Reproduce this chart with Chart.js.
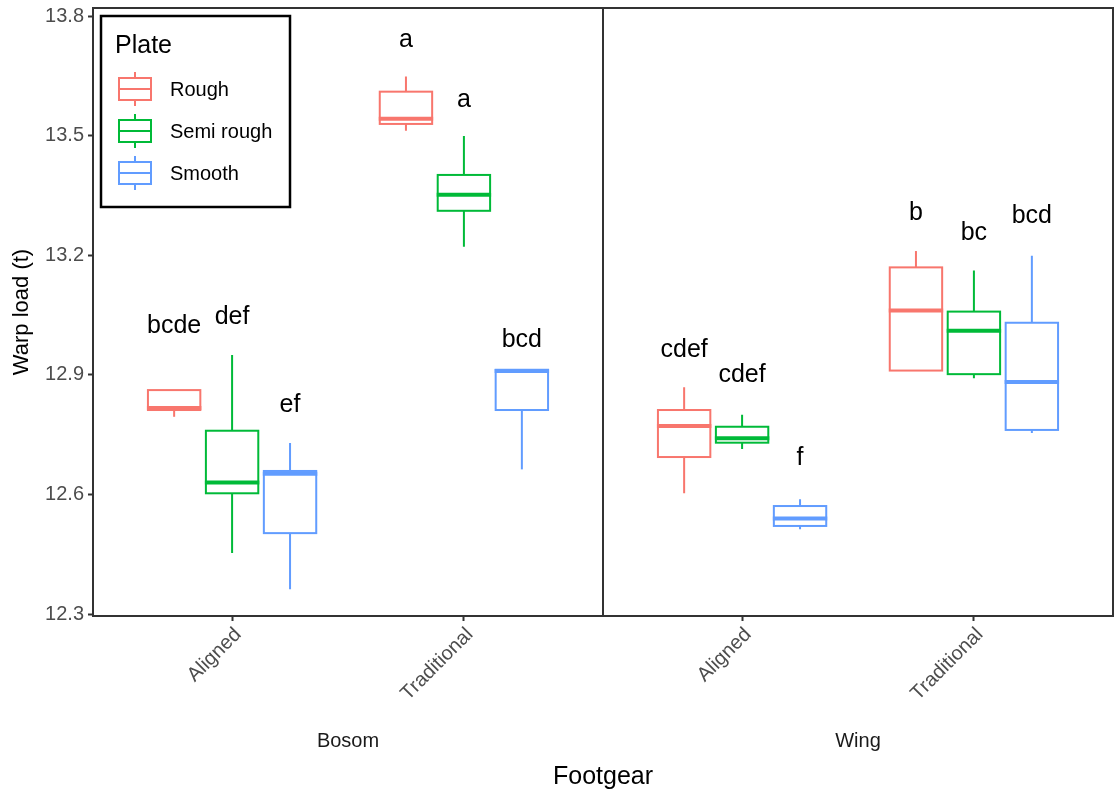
<!DOCTYPE html>
<html>
<head>
<meta charset="utf-8">
<script src="https://cdn.jsdelivr.net/npm/chart.js@4"></script>
<style>
html, body { margin: 0; padding: 0; background: #fff; }
#wrap { width: 1114px; height: 793px; }
</style>
</head>
<body>
<div id="wrap"><canvas id="boxChart"></canvas></div>
<script>
// panels / categories / series
const panels = ['Bosom', 'Wing'];
const footgear = ['Aligned', 'Traditional'];
const plates = ['Rough', 'Semi rough', 'Smooth'];
const plateColors = ['#F8766D', '#00BA38', '#619CFF'];

// box stats, group order: Bosom-Aligned, Bosom-Traditional, Wing-Aligned, Wing-Traditional
const roughMin = [12.795, 13.513, 12.603, 12.911];
const roughQ1  = [12.812, 13.530, 12.694, 12.911];
const roughMed = [12.817, 13.543, 12.772, 13.062];
const roughQ3  = [12.862, 13.611, 12.812, 13.170];
const roughMax = [12.862, 13.649, 12.869, 13.211];

const semiMin = [12.453, 13.222, 12.714, 12.892];
const semiQ1  = [12.603, 13.312, 12.730, 12.902];
const semiMed = [12.630, 13.352, 12.741, 13.011];
const semiQ3  = [12.760, 13.402, 12.770, 13.059];
const semiMax = [12.950, 13.500, 12.800, 13.162];

const smoothMin = [12.362, 12.663, 12.513, 12.754];
const smoothQ1  = [12.503, 12.812, 12.521, 12.762];
const smoothMed = [12.652, 12.910, 12.540, 12.882];
const smoothQ3  = [12.659, 12.913, 12.571, 13.031];
const smoothMax = [12.729, 12.913, 12.588, 13.199];

// significance letters and their heights
const roughLetters  = ['bcde', 'a', 'cdef', 'b'];
const semiLetters   = ['def', 'a', 'cdef', 'bc'];
const smoothLetters = ['ef', 'bcd', 'f', 'bcd'];
const roughLetterY  = [13.023, 13.741, 12.963, 13.307];
const semiLetterY   = [13.046, 13.590, 12.900, 13.257];
const smoothLetterY = [12.825, 12.988, 12.692, 13.299];

const yTicks = [12.3, 12.6, 12.9, 13.2, 13.5, 13.8];

// x position of a group: facet offset + category index
const panelWidth = 2.2;
function groupX(g) {
    const p = Math.floor(g / 2), c = g % 2;
    return 1 + c + p * panelWidth;
}
const dodge = 0.25;
const halfBox = 0.113;

const stats = [
    [roughMin, roughQ1, roughMed, roughQ3, roughMax, roughLetters, roughLetterY],
    [semiMin, semiQ1, semiMed, semiQ3, semiMax, semiLetters, semiLetterY],
    [smoothMin, smoothQ1, smoothMed, smoothQ3, smoothMax, smoothLetters, smoothLetterY]
];

const datasets = plates.map((name, s) => {
    const [mn, q1, md, q3, mx, lt, ly] = stats[s];
    return {
        label: name,
        borderColor: plateColors[s],
        backgroundColor: plateColors[s],
        pointRadius: 0,
        data: md.map((m, g) => ({
            x: groupX(g) + (s - 1) * dodge,
            y: m, min: mn[g], q1: q1[g], q3: q3[g], max: mx[g],
            letter: lt[g], letterY: ly[g]
        }))
    };
});

const FONT = '"Liberation Sans", Arial, Helvetica, sans-serif';

// draws panel frames, boxes, letters, strip labels and legend
const boxPlugin = {
    id: 'boxPlugin',
    afterDatasetsDraw(chart) {
        const ctx = chart.ctx;
        const xs = chart.scales.x, ys = chart.scales.y;
        const area = chart.chartArea;

        chart.data.datasets.forEach((ds) => {
            ds.data.forEach((d) => {
                const xc = xs.getPixelForValue(d.x);
                const xl = xs.getPixelForValue(d.x - halfBox);
                const xr = xs.getPixelForValue(d.x + halfBox);
                const yMin = ys.getPixelForValue(d.min);
                const yQ1 = ys.getPixelForValue(d.q1);
                const yMed = ys.getPixelForValue(d.y);
                const yQ3 = ys.getPixelForValue(d.q3);
                const yMax = ys.getPixelForValue(d.max);
                ctx.save();
                ctx.strokeStyle = ds.borderColor;
                ctx.lineWidth = 2;
                ctx.beginPath();
                ctx.moveTo(xc, yMax); ctx.lineTo(xc, yQ3);
                ctx.moveTo(xc, yQ1); ctx.lineTo(xc, yMin);
                ctx.stroke();
                ctx.fillStyle = '#fff';
                ctx.fillRect(xl, yQ3, xr - xl, yQ1 - yQ3);
                ctx.strokeRect(xl, yQ3, xr - xl, yQ1 - yQ3);
                ctx.lineWidth = 4;
                ctx.beginPath();
                ctx.moveTo(xl - 1, yMed); ctx.lineTo(xr + 1, yMed);
                ctx.stroke();
                // letter
                ctx.fillStyle = '#000';
                ctx.font = '25px ' + FONT;
                ctx.textAlign = 'center';
                ctx.textBaseline = 'middle';
                ctx.fillText(d.letter, xc, ys.getPixelForValue(d.letterY));
                ctx.restore();
            });
        });

        // panel frames
        ctx.save();
        ctx.strokeStyle = '#333';
        ctx.lineWidth = 2;
        panels.forEach((p, i) => {
            const x0 = xs.getPixelForValue(0.4 + i * panelWidth);
            const x1 = xs.getPixelForValue(0.4 + (i + 1) * panelWidth);
            ctx.strokeRect(x0, area.top, x1 - x0, area.bottom - area.top);
            // strip label under the axis
            ctx.fillStyle = '#1a1a1a';
            ctx.font = '20px ' + FONT;
            ctx.textAlign = 'center';
            ctx.textBaseline = 'middle';
            ctx.fillText(p, (x0 + x1) / 2, 741);
        });
        ctx.restore();

        // legend
        ctx.save();
        ctx.strokeStyle = '#000';
        ctx.lineWidth = 2.5;
        ctx.fillStyle = '#fff';
        ctx.fillRect(101, 16, 189, 191);
        ctx.strokeRect(101, 16, 189, 191);
        ctx.fillStyle = '#000';
        ctx.font = '25px ' + FONT;
        ctx.textAlign = 'left';
        ctx.textBaseline = 'alphabetic';
        ctx.fillText('Plate', 115, 53);
        const rowY = [89, 131, 173];
        chart.data.datasets.forEach((ds, s) => {
            const cy = rowY[s];
            ctx.strokeStyle = ds.borderColor;
            ctx.lineWidth = 2;
            ctx.beginPath();
            ctx.moveTo(135, cy - 17); ctx.lineTo(135, cy - 11);
            ctx.moveTo(135, cy + 11); ctx.lineTo(135, cy + 17);
            ctx.moveTo(119, cy); ctx.lineTo(151, cy);
            ctx.stroke();
            ctx.strokeRect(119, cy - 11, 32, 22);
            ctx.fillStyle = '#000';
            ctx.font = '20px ' + FONT;
            ctx.textBaseline = 'middle';
            ctx.fillText(ds.label, 170, cy + 1);
        });
        ctx.restore();
    }
};

const xTickVals = [0, 1, 2, 3].map(groupX);

new Chart(document.getElementById('boxChart'), {
    type: 'scatter',
    data: { datasets: datasets },
    options: {
        responsive: true,
        maintainAspectRatio: false,
        animation: false,
        layout: { padding: { top: 8, right: 1, left: 0, bottom: 0 } },
        plugins: {
            legend: { display: false },
            tooltip: { enabled: false }
        },
        scales: {
            x: {
                type: 'linear',
                min: 0.4,
                max: 0.4 + 2 * panelWidth,
                afterBuildTicks: (scale) => { scale.ticks = xTickVals.map(v => ({ value: v })); },
                afterFit: (scale) => {
                    scale.height = 177;
                    scale.paddingLeft = 0;
                    scale.paddingRight = 0;
                },
                ticks: {
                    autoSkip: false,
                    minRotation: 45,
                    maxRotation: 45,
                    padding: 2,
                    labelOffset: 6,
                    color: '#4d4d4d',
                    font: { size: 20, family: FONT },
                    callback: (v) => {
                        const i = xTickVals.findIndex(t => Math.abs(t - v) < 1e-6);
                        return i >= 0 ? footgear[i % 2] : '';
                    }
                },
                grid: { drawOnChartArea: false, drawTicks: true, tickLength: 5, tickColor: '#333', tickWidth: 2 },
                border: { display: false },
                title: {
                    display: true, text: 'Footgear', color: '#000',
                    font: { size: 25, family: FONT }, padding: { top: 0, bottom: 1 }
                }
            },
            y: {
                min: 12.295,
                max: 13.821,
                afterBuildTicks: (scale) => { scale.ticks = yTicks.map(v => ({ value: v })); },
                afterFit: (scale) => {
                    scale.width = 93;
                    scale.paddingTop = 0;
                    scale.paddingBottom = 0;
                },
                ticks: {
                    padding: 4,
                    color: '#4d4d4d',
                    font: { size: 20, family: FONT },
                    callback: (v) => Number(v).toFixed(1)
                },
                grid: { drawOnChartArea: false, drawTicks: true, tickLength: 5, tickColor: '#333', tickWidth: 2 },
                border: { display: false },
                title: {
                    display: true, text: 'Warp load (t)', color: '#000',
                    font: { size: 22, family: FONT }, padding: { top: 9, bottom: 0 }
                }
            }
        }
    },
    plugins: [boxPlugin]
});
</script>
</body>
</html>
